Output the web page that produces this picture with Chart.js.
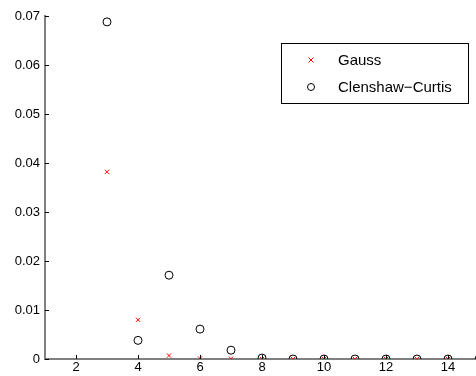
<!DOCTYPE html>
<html>
<head>
<meta charset="utf-8">
<script src="https://cdn.jsdelivr.net/npm/chart.js@4/dist/chart.umd.min.js"></script>
<style>
  html, body { margin: 0; padding: 0; background: #fff; overflow: hidden; }
  #wrap { width: 520px; height: 376px; }
</style>
</head>
<body>
<div id="wrap"><canvas id="c" width="520" height="376"></canvas></div>
<script>
// nodes
var nodes = [3, 4, 5, 6, 7, 8, 9, 10, 11, 12, 13, 14, 15];
// error values
var gaussErr = [0.0382, 0.0080, 0.0007, 0.0001, 0.00005, 0, 0, 0, 0, 0, 0, 0, 0];
var ccErr = [0.0688, 0.0038, 0.0171, 0.0061, 0.0018, 0.0002, 0, 0, 0, 0, 0, 0, 0];
// tick labels
var xTicks = [2, 4, 6, 8, 10, 12, 14];
var yTicks = [0, 0.01, 0.02, 0.03, 0.04, 0.05, 0.06, 0.07];
var seriesNames = ['Gauss', 'Clenshaw\u2212Curtis'];

var FAMILY = '"Liberation Sans", Arial, sans-serif';

function toPoints(ys) {
    return nodes.map(function(n, i) { return { x: n, y: ys[i] }; });
}

// inward ticks and legend box
var decor = {
    id: 'decor',
    afterDraw: function(chart) {
        var ctx = chart.ctx;
        var xs = chart.scales.x, ys = chart.scales.y;
        var area = chart.chartArea;
        ctx.save();
        ctx.strokeStyle = '#000';
        ctx.lineWidth = 1;
        xTicks.forEach(function(v) {
            var px = Math.round(xs.getPixelForValue(v)) + 0.5;
            ctx.beginPath();
            ctx.moveTo(px, area.bottom);
            ctx.lineTo(px, area.bottom - 4);
            ctx.stroke();
        });
        yTicks.forEach(function(v) {
            var py = Math.round(ys.getPixelForValue(v)) + 0.5;
            ctx.beginPath();
            ctx.moveTo(area.left, py);
            ctx.lineTo(area.left + 4, py);
            ctx.stroke();
        });

        // legend
        ctx.strokeStyle = '#000';
        ctx.strokeRect(281.5, 43.5, 187, 60);
        ctx.font = '15px ' + FAMILY;
        ctx.fillStyle = '#000';
        ctx.textBaseline = 'middle';
        ctx.textAlign = 'left';
        var rowY = [60, 87];
        // Gauss marker
        ctx.strokeStyle = '#ff0000';
        ctx.beginPath();
        ctx.moveTo(308.5, rowY[0] - 2.5); ctx.lineTo(313.5, rowY[0] + 2.5);
        ctx.moveTo(313.5, rowY[0] - 2.5); ctx.lineTo(308.5, rowY[0] + 2.5);
        ctx.stroke();
        // CC marker
        ctx.strokeStyle = '#000';
        ctx.beginPath();
        ctx.arc(311, rowY[1], 3.5, 0, Math.PI * 2);
        ctx.stroke();
        ctx.fillText(seriesNames[0], 338, rowY[0] + 1);
        ctx.fillText(seriesNames[1], 338, rowY[1] + 1);
        ctx.restore();
    }
};

new Chart(document.getElementById('c'), {
    type: 'scatter',
    data: {
        datasets: [{
            label: seriesNames[0],
            data: toPoints(gaussErr),
            pointStyle: 'crossRot',
            pointRadius: 3,
            pointBorderWidth: 1,
            borderColor: '#ff0000',
            backgroundColor: '#ff0000'
        }, {
            label: seriesNames[1],
            data: toPoints(ccErr),
            pointStyle: 'circle',
            pointRadius: 4,
            pointBorderWidth: 1,
            borderColor: '#000000',
            backgroundColor: 'rgba(0,0,0,0)'
        }]
    },
    options: {
        responsive: false,
        animation: false,
        events: [],
        layout: { padding: { top: 16, right: 10, left: 0, bottom: 0 } },
        plugins: {
            legend: { display: false },
            tooltip: { enabled: false }
        },
        scales: {
            x: {
                type: 'linear',
                min: 1,
                max: 16,
                afterBuildTicks: function(s) { s.ticks = xTicks.map(function(v) { return { value: v }; }); },
                afterFit: function(s) { s.height = 17; },
                grid: { display: false, drawTicks: false },
                border: { display: true, color: '#808080', width: 2 },
                ticks: {
                    padding: 1,
                    color: '#000',
                    font: { family: FAMILY, size: 13 },
                    maxRotation: 0,
                    autoSkip: false
                }
            },
            y: {
                type: 'linear',
                min: 0,
                max: 0.07,
                afterBuildTicks: function(s) { s.ticks = yTicks.map(function(v) { return { value: v }; }); },
                afterFit: function(s) { s.width = 45; },
                grid: { display: false, drawTicks: false },
                border: { display: true, color: '#808080', width: 2 },
                ticks: {
                    padding: 5,
                    color: '#000',
                    font: { family: FAMILY, size: 13 },
                    autoSkip: false,
                    callback: function(v) { return String(Math.round(v * 100) / 100); }
                }
            }
        }
    },
    plugins: [decor]
});
</script>
</body>
</html>
